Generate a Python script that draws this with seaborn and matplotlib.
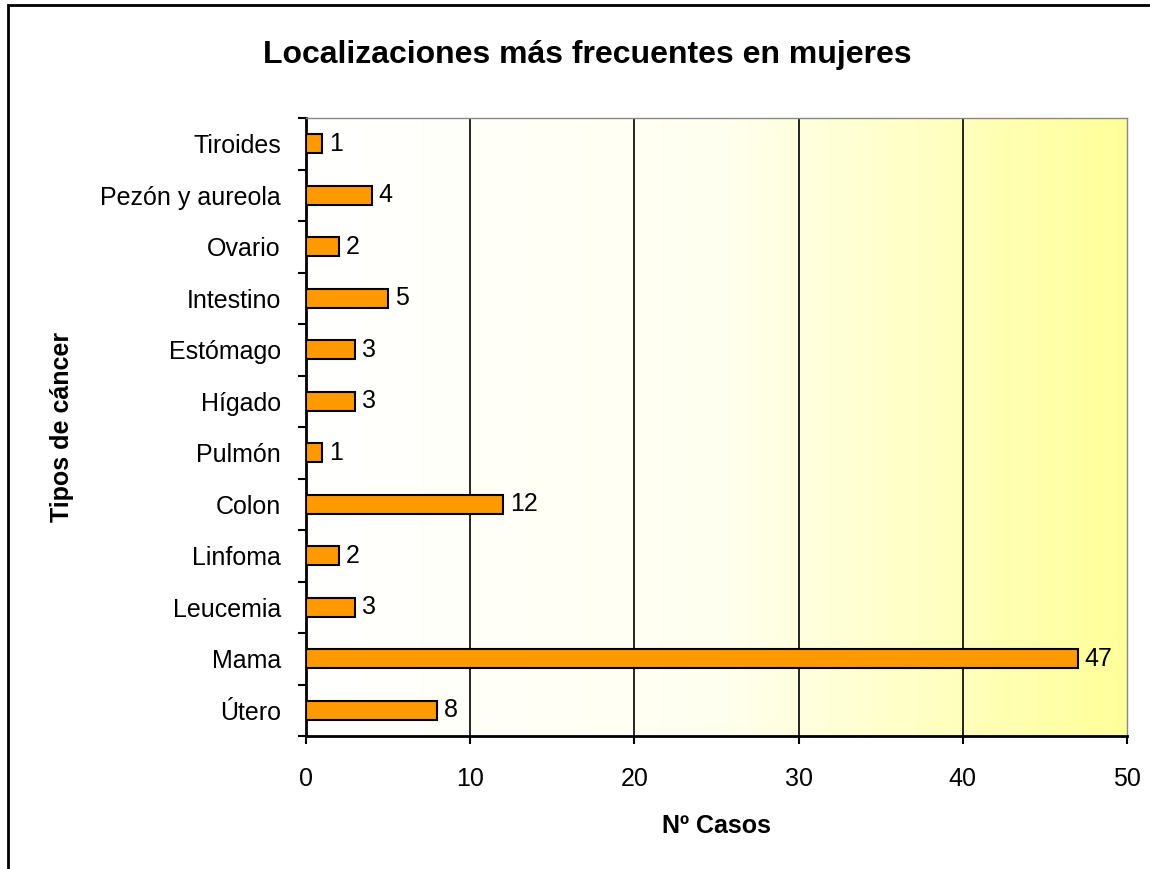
import seaborn as sns
import matplotlib.pyplot as plt
import numpy as np
from matplotlib.colors import LinearSegmentedColormap
from matplotlib.patches import Rectangle

# data (top to bottom)
tipos = ['Tiroides', 'Pezón y aureola', 'Ovario', 'Intestino', 'Estómago', 'Hígado',
         'Pulmón', 'Colon', 'Linfoma', 'Leucemia', 'Mama', 'Útero']
casos = [1, 4, 2, 5, 3, 3, 1, 12, 2, 3, 47, 8]
xticks = [0, 10, 20, 30, 40, 50]

sns.set_style('white')
plt.rcParams['font.family'] = ['Liberation Sans', 'DejaVu Sans']
plt.rcParams.update({'text.color': 'black', 'axes.labelcolor': 'black',
                     'xtick.color': 'black', 'ytick.color': 'black'})

fig = plt.figure(figsize=(11.5, 8.69), dpi=100)
ax = fig.add_axes([0.266, 0.153, 0.714, 0.711])

sns.barplot(x=casos, y=tipos, orient='h', color='#FF9900', edgecolor='black',
            linewidth=1.5, width=0.37, saturation=1, ax=ax, zorder=3)

# gradient background white -> pale yellow
cmap = LinearSegmentedColormap.from_list('bg', ['#FFFFFF', '#FFFFF0', '#FFFF99'])
grad = np.linspace(0, 1, 256).reshape(1, -1)
ax.imshow(grad, extent=[0, 50, len(tipos) - 0.5, -0.5], aspect='auto', cmap=cmap, zorder=0)

ax.set_xlim(0, 50)
ax.set_ylim(len(tipos) - 0.5, -0.5)
ax.set_xticks(xticks)
for v in xticks[1:-1]:
    ax.axvline(v, color='black', lw=1.2, zorder=1)

ax.set_yticks(range(len(tipos)), tipos)
ax.set_yticks(np.arange(-0.5, len(tipos)), minor=True)
ax.tick_params(axis='y', which='major', length=0, pad=18, labelsize=18)
ax.tick_params(axis='y', which='minor', length=6, width=1.5, direction='out', left=True)
ax.tick_params(axis='x', length=6, width=1.5, direction='out', bottom=True, pad=16, labelsize=18)

for s in ['left', 'bottom']:
    ax.spines[s].set_color('black')
    ax.spines[s].set_linewidth(2)
for s in ['top', 'right']:
    ax.spines[s].set_color('#888888')
    ax.spines[s].set_linewidth(1)

ax.bar_label(ax.containers[0], padding=5, fontsize=18)

ax.set_xlabel('Nº Casos', fontsize=18, fontweight='bold')
ax.set_ylabel('Tipos de cáncer', fontsize=18, fontweight='bold')
ax.xaxis.set_label_coords(0.5, -0.126)
ax.yaxis.set_label_coords(-0.283, 0.5)
fig.text(0.511, 0.937, 'Localizaciones más frecuentes en mujeres', ha='center', va='center',
         fontsize=23, fontweight='bold')

# outer frame (clipped at right/bottom like the original)
fig.patches.append(Rectangle((8 / 1150, -0.05), 1.2, 1.05 - 5 / 869,
                             transform=fig.transFigure, fill=False, edgecolor='black', lw=2))

fig.savefig('out.png', dpi=100)
